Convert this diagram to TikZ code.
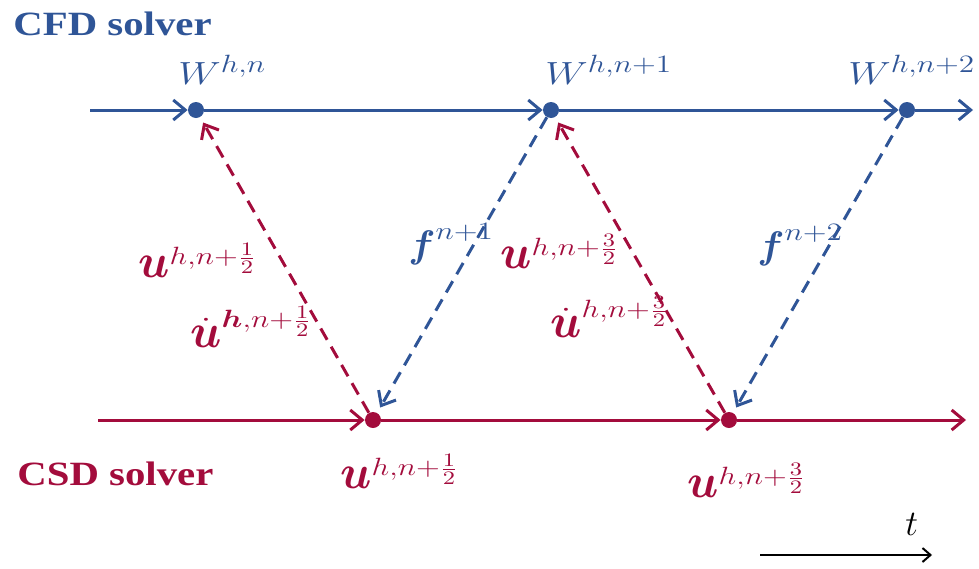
\RequirePackage{fix-cm}
\documentclass[tikz,border=0pt]{standalone}
\usepackage{amsmath, amssymb}
\usepackage{fontspec}
\usepackage{tikz}
\usetikzlibrary{arrows.meta}

\newfontfamily\solverfont[FakeStretch=1.2]{Liberation Serif}
\definecolor{cfdblue}{RGB}{47,85,151}
\definecolor{csdred}{RGB}{163,12,60}
\DeclareMathSizes{16}{16}{12.5}{9.5}

\newcommand{\wide}[1]{\scalebox{1.25}[1]{#1}}
\newcommand{\vu}{\scalebox{1.15}[1.5]{$\boldsymbol{u}$}}
\newcommand{\vf}{\scalebox{1.0}[1.2]{$\boldsymbol{f}$}}

\begin{document}
\begin{tikzpicture}[x=0.5pt, y=-0.5pt,
    cfdline/.style={cfdblue, line width=1.5pt, -{Straight Barb[length=6pt, width=10pt]}},
    csdline/.style={csdred, line width=1.5pt, -{Straight Barb[length=6pt, width=10pt]}},
    cfdlink/.style={cfdline, dash pattern=on 6.5pt off 4pt, shorten >=3pt},
    csdlink/.style={csdline, dash pattern=on 6.5pt off 4pt, shorten >=3pt},
    cfddot/.style={circle, fill=cfdblue, inner sep=0pt, minimum size=8pt},
    csddot/.style={circle, fill=csdred, inner sep=0pt, minimum size=8pt},
    lab/.style={inner sep=0pt, anchor=base west, font=\fontsize{16}{19}\selectfont},
    solver/.style={inner sep=0pt, anchor=base west, font=\solverfont\bfseries\fontsize{17}{20}\selectfont}]
  \useasboundingbox (0,0) rectangle (979,568);

  % time levels
  \node[cfddot] (w0) at (196,110) {};
  \node[cfddot] (w1) at (551,110) {};
  \node[cfddot] (w2) at (907,110) {};
  \node[csddot] (u0) at (373,420) {};
  \node[csddot] (u1) at (729,420) {};
  \coordinate (cfdstart) at (90,110);
  \coordinate (cfdend) at (973,110);
  \coordinate (csdstart) at (98,420);
  \coordinate (csdend) at (966,420);

  \draw[cfdline] (cfdstart) -- (w0);
  \draw[cfdline] (w0) -- (w1);
  \draw[cfdline] (w1) -- (w2);
  \draw[cfdline] (w2) -- (cfdend);
  \draw[csdline] (csdstart) -- (u0);
  \draw[csdline] (u0) -- (u1);
  \draw[csdline] (u1) -- (csdend);

  % exchanges
  \draw[csdlink] (u0) -- (w0);
  \draw[csdlink] (u1) -- (w1);
  \draw[cfdlink] (w1) -- (u0);
  \draw[cfdlink] (w2) -- (u1);

  \node[solver, cfdblue] (cfd) at (13,35) {CFD solver};
  \node[solver, csdred] (csd) at (17,485) {CSD solver};

  \node[lab, cfdblue] (wl0) at (178,84) {\wide{$W^{h,n}$}};
  \node[lab, cfdblue] (wl1) at (545,84) {\wide{$W^{h,n+1}$}};
  \node[lab, cfdblue] (wl2) at (848,84) {\wide{$W^{h,n+2}$}};

  \node[lab, csdred] (ua) at (138,277) {\wide{$\vu^{h,n+\frac{1}{2}}$}};
  \node[lab, csdred] (uda) at (190,347) {\wide{$\dot{\vu}^{\boldsymbol{h},n+\frac{1}{2}}$}};
  \node[lab, cfdblue] (fa) at (408,257) {\wide{$\vf^{n+1}$}};
  \node[lab, csdred] (ub) at (500,268) {\wide{$\vu^{h,n+\frac{3}{2}}$}};
  \node[lab, csdred] (udb) at (550,337) {\wide{$\dot{\vu}^{h,n+\frac{3}{2}}$}};
  \node[lab, cfdblue] (fb) at (757,258) {\wide{$\vf^{n+2}$}};

  \node[lab, csdred] (u0l) at (340,488) {\wide{$\vu^{h,n+\frac{1}{2}}$}};
  \node[lab, csdred] (u1l) at (687,497) {\wide{$\vu^{h,n+\frac{3}{2}}$}};

  % time axis
  \node[lab, font=\fontsize{18}{21}\selectfont] (tl) at (905,535) {$t$};
  \coordinate (t0) at (760,555);
  \coordinate (t1) at (932,555);
  \draw[line width=1pt, -{Straight Barb[length=4pt, width=7pt]}] (t0) -- (t1);
\end{tikzpicture}
\end{document}
